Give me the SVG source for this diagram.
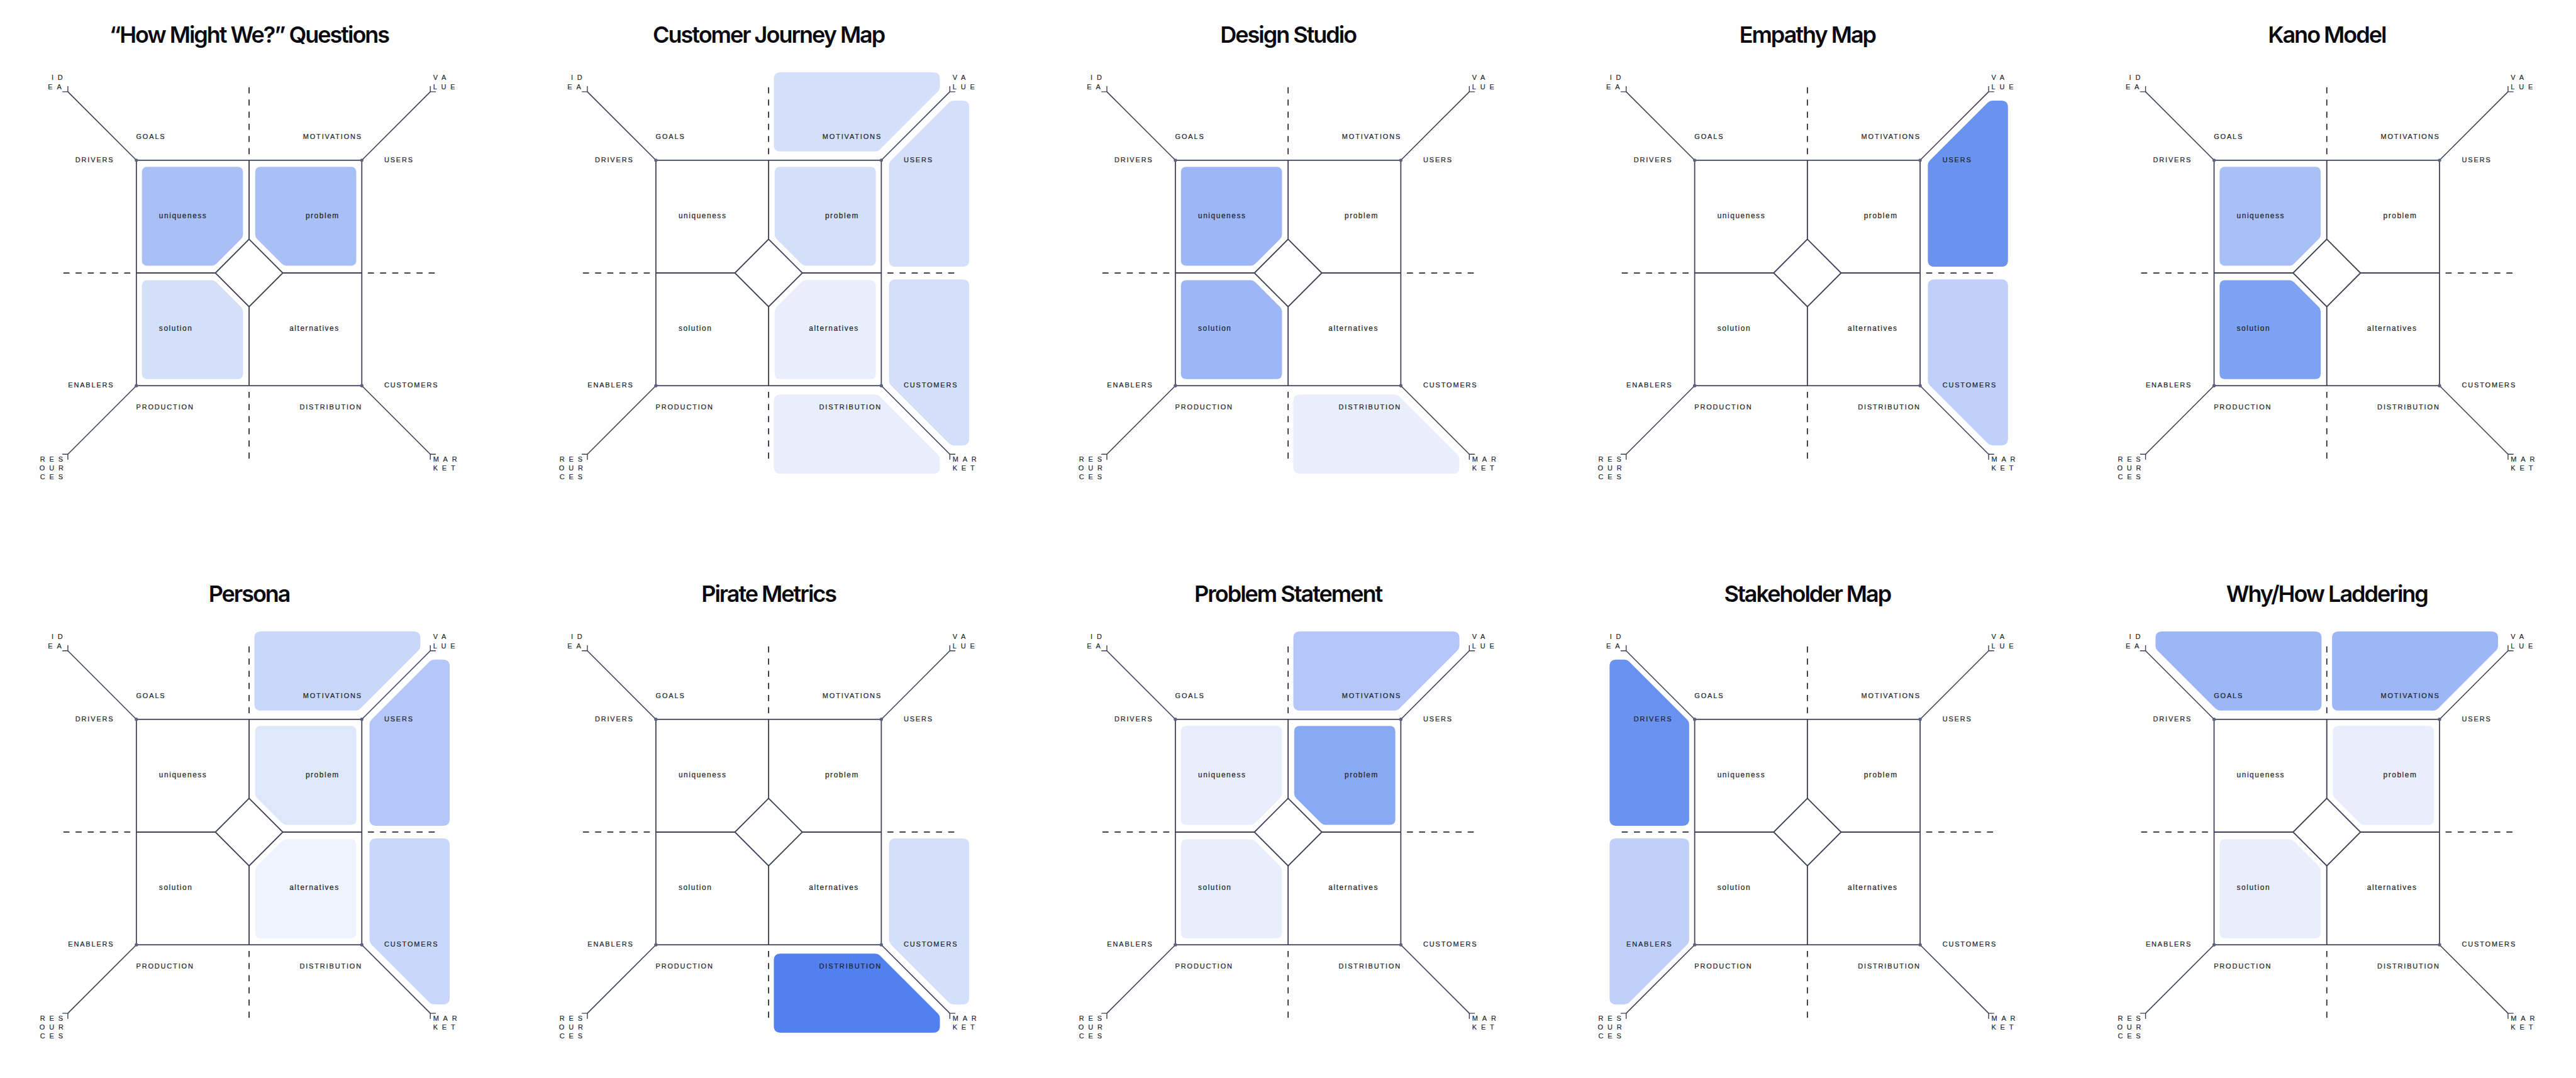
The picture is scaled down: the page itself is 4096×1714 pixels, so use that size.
<svg xmlns="http://www.w3.org/2000/svg" xmlns:xlink="http://www.w3.org/1999/xlink" width="4096" height="1714" viewBox="0 0 4096 1714">
<style>
.box,.inner,.diag,.tick{fill:none;stroke:#3d4054;stroke-linejoin:miter}
.box{stroke-width:2}
.inner{stroke-width:2.1}
.diag{stroke-width:1.8}
.tick{stroke-width:1.6}
.dash{fill:none;stroke:#262834;stroke-width:2;stroke-dasharray:11 11}
.dot{fill:#5c6180}
.title{font-family:Inter,"Liberation Sans",sans-serif;font-weight:600;font-size:41px;letter-spacing:-2.3px;fill:#0b0b0f;text-anchor:middle}
.lb{font-family:"Liberation Sans",Arial,sans-serif;font-size:12.5px;letter-spacing:2.1px;fill:#1c1e2a;stroke:#1c1e2a;stroke-width:0.25px}
.lb.e,.cl.e{text-anchor:end}
.cl{font-family:"Liberation Sans",Arial,sans-serif;font-size:13.5px;letter-spacing:1.8px;fill:#1c1e2a;stroke:#1c1e2a;stroke-width:0.25px}
.cn{font-family:"Liberation Sans",Arial,sans-serif;font-size:12.5px;letter-spacing:7.8px;fill:#1c1e2a;stroke:#1c1e2a;stroke-width:0.2px}
.fA{fill:#5280ee}.fB{fill:#6a92ef}.fC{fill:#7da1f3}.fD{fill:#89a9f5}.fE{fill:#9db7f6}.fF{fill:#a9c0f7}
.fG{fill:#b4c7f8}.fH{fill:#bfd0f9}.fI{fill:#c9d8fa}.fJ{fill:#d4dffa}.fK{fill:#dfe7fb}.fL{fill:#e9eefd}.fM{fill:#eef3fe}
</style>
<defs>
<g id="frame">
<path class="dash" d="M0,-336V-204M0,336V204M-336,0H-204M336,0H204"/>
<rect class="box" x="-204" y="-204" width="408" height="408"/>
<path class="inner" d="M0,-204V-61M0,61V204M-204,0H-61M61,0H204"/>
<path class="inner" d="M0,-61L61,0L0,61L-61,0Z"/>
<path class="diag" d="M-204,-204L-328,-328M204,-204L328,-328M-204,204L-328,328M204,204L328,328"/>
<path class="tick" d="M-338,-328H-328V-338M338,-328H328V-338M-338,328H-328V338M338,328H328V338"/>
<circle class="dot" cx="-204" cy="-204" r="3"/>
<circle class="dot" cx="204" cy="-204" r="3"/>
<circle class="dot" cx="-204" cy="204" r="3"/>
<circle class="dot" cx="204" cy="204" r="3"/>
</g>
<path id="r-uniq" d="M-184,-192L-21,-192Q-11,-192 -11,-182L-11,-70Q-11,-65 -14.5,-61.5L-59.5,-16.5Q-63,-13 -68,-13L-184,-13Q-194,-13 -194,-23L-194,-182Q-194,-192 -184,-192Z"/>
<path id="r-prob" d="M184,-192L21,-192Q11,-192 11,-182L11,-70Q11,-65 14.5,-61.5L59.5,-16.5Q63,-13 68,-13L184,-13Q194,-13 194,-23L194,-182Q194,-192 184,-192Z"/>
<path id="r-sol" d="M-184,192L-21,192Q-11,192 -11,182L-11,70Q-11,65 -14.5,61.5L-59.5,16.5Q-63,13 -68,13L-184,13Q-194,13 -194,23L-194,182Q-194,192 -184,192Z"/>
<path id="r-alt" d="M184,192L21,192Q11,192 11,182L11,70Q11,65 14.5,61.5L59.5,16.5Q63,13 68,13L184,13Q194,13 194,23L194,182Q194,192 184,192Z"/>
<path id="r-motiv" d="M21.5,-363L298,-363Q310,-363 310,-351L310,-337Q310,-332 306.5,-328.5L201.5,-223.5Q198,-220 193,-220L21.5,-220Q9.5,-220 9.5,-232L9.5,-351Q9.5,-363 21.5,-363Z"/>
<path id="r-goals" d="M-21.5,-363L-298,-363Q-310,-363 -310,-351L-310,-337Q-310,-332 -306.5,-328.5L-201.5,-223.5Q-198,-220 -193,-220L-21.5,-220Q-9.5,-220 -9.5,-232L-9.5,-351Q-9.5,-363 -21.5,-363Z"/>
<path id="r-dist" d="M21.5,363L298,363Q310,363 310,351L310,337Q310,332 306.5,328.5L201.5,223.5Q198,220 193,220L21.5,220Q9.5,220 9.5,232L9.5,351Q9.5,363 21.5,363Z"/>
<path id="r-users" d="M218,-23.5L218,-195Q218,-200 221.5,-203.5L326.5,-308.5Q330,-312 335,-312L351,-312Q363,-312 363,-300L363,-23.5Q363,-11.5 351,-11.5L230,-11.5Q218,-11.5 218,-23.5Z"/>
<path id="r-cust" d="M218,23.5L218,195Q218,200 221.5,203.5L326.5,308.5Q330,312 335,312L351,312Q363,312 363,300L363,23.5Q363,11.5 351,11.5L230,11.5Q218,11.5 218,23.5Z"/>
<path id="r-drivers" d="M-214,-23.5L-214,-195Q-214,-200 -217.5,-203.5L-322.5,-308.5Q-326,-312 -331,-312L-346,-312Q-358,-312 -358,-300L-358,-23.5Q-358,-11.5 -346,-11.5L-226,-11.5Q-214,-11.5 -214,-23.5Z"/>
<path id="r-enablers" d="M-214,23.5L-214,195Q-214,200 -217.5,203.5L-322.5,308.5Q-326,312 -331,312L-346,312Q-358,312 -358,300L-358,23.5Q-358,11.5 -346,11.5L-226,11.5Q-214,11.5 -214,23.5Z"/>
</defs>
<rect width="4096" height="1714" fill="#ffffff"/>
<g transform="scale(0.87859)">

<g id="panel-how-might-we" transform="translate(450.8 494)">
<text class="title" x="0" y="-417">“How Might We?” Questions</text>
<g class="regions"><use href="#r-uniq" class="fF"/><use href="#r-prob" class="fF"/><use href="#r-sol" class="fJ"/></g>
<g class="connectors"><use href="#frame"/></g>
<g class="labels">
<text class="lb" x="-204.4" y="-242">GOALS</text><text class="lb e" x="204.8" y="-242">MOTIVATIONS</text>
<text class="lb e" x="-244.2" y="-200.8">DRIVERS</text><text class="lb" x="244.5" y="-200.8">USERS</text>
<text class="lb e" x="-244.2" y="206.7">ENABLERS</text><text class="lb" x="244.5" y="206.7">CUSTOMERS</text>
<text class="lb" x="-204.4" y="247.5">PRODUCTION</text><text class="lb e" x="204.8" y="247.5">DISTRIBUTION</text>
<text class="cl" x="-163" y="-98.7">uniqueness</text><text class="cl e" x="163.6" y="-98.7">problem</text>
<text class="cl" x="-163" y="104.6">solution</text><text class="cl e" x="163.6" y="104.6">alternatives</text>
<text class="cn" x="-357.6" y="-349">ID</text><text class="cn" x="-364" y="-332.8">EA</text>
<text class="cn" x="333" y="-349">VA</text><text class="cn" x="333" y="-332.8">LUE</text>
<text class="cn" x="-378.3" y="341.6">RES</text><text class="cn" x="-379.4" y="357.7">OUR</text><text class="cn" x="-378.3" y="373.8">CES</text>
<text class="cn" x="333" y="341.6">MAR</text><text class="cn" x="333" y="357.7">KET</text>
</g>
</g>

<g id="panel-customer-journey-map" transform="translate(1391 494)">
<text class="title" x="0" y="-417">Customer Journey Map</text>
<g class="regions"><use href="#r-motiv" class="fJ"/><use href="#r-users" class="fJ"/><use href="#r-cust" class="fJ"/><use href="#r-prob" class="fJ"/><use href="#r-alt" class="fL"/><use href="#r-dist" class="fL"/></g>
<g class="connectors"><use href="#frame"/></g>
<g class="labels">
<text class="lb" x="-204.4" y="-242">GOALS</text><text class="lb e" x="204.8" y="-242">MOTIVATIONS</text>
<text class="lb e" x="-244.2" y="-200.8">DRIVERS</text><text class="lb" x="244.5" y="-200.8">USERS</text>
<text class="lb e" x="-244.2" y="206.7">ENABLERS</text><text class="lb" x="244.5" y="206.7">CUSTOMERS</text>
<text class="lb" x="-204.4" y="247.5">PRODUCTION</text><text class="lb e" x="204.8" y="247.5">DISTRIBUTION</text>
<text class="cl" x="-163" y="-98.7">uniqueness</text><text class="cl e" x="163.6" y="-98.7">problem</text>
<text class="cl" x="-163" y="104.6">solution</text><text class="cl e" x="163.6" y="104.6">alternatives</text>
<text class="cn" x="-357.6" y="-349">ID</text><text class="cn" x="-364" y="-332.8">EA</text>
<text class="cn" x="333" y="-349">VA</text><text class="cn" x="333" y="-332.8">LUE</text>
<text class="cn" x="-378.3" y="341.6">RES</text><text class="cn" x="-379.4" y="357.7">OUR</text><text class="cn" x="-378.3" y="373.8">CES</text>
<text class="cn" x="333" y="341.6">MAR</text><text class="cn" x="333" y="357.7">KET</text>
</g>
</g>

<g id="panel-design-studio" transform="translate(2331.2 494)">
<text class="title" x="0" y="-417">Design Studio</text>
<g class="regions"><use href="#r-uniq" class="fE"/><use href="#r-sol" class="fE"/><use href="#r-dist" class="fL"/></g>
<g class="connectors"><use href="#frame"/></g>
<g class="labels">
<text class="lb" x="-204.4" y="-242">GOALS</text><text class="lb e" x="204.8" y="-242">MOTIVATIONS</text>
<text class="lb e" x="-244.2" y="-200.8">DRIVERS</text><text class="lb" x="244.5" y="-200.8">USERS</text>
<text class="lb e" x="-244.2" y="206.7">ENABLERS</text><text class="lb" x="244.5" y="206.7">CUSTOMERS</text>
<text class="lb" x="-204.4" y="247.5">PRODUCTION</text><text class="lb e" x="204.8" y="247.5">DISTRIBUTION</text>
<text class="cl" x="-163" y="-98.7">uniqueness</text><text class="cl e" x="163.6" y="-98.7">problem</text>
<text class="cl" x="-163" y="104.6">solution</text><text class="cl e" x="163.6" y="104.6">alternatives</text>
<text class="cn" x="-357.6" y="-349">ID</text><text class="cn" x="-364" y="-332.8">EA</text>
<text class="cn" x="333" y="-349">VA</text><text class="cn" x="333" y="-332.8">LUE</text>
<text class="cn" x="-378.3" y="341.6">RES</text><text class="cn" x="-379.4" y="357.7">OUR</text><text class="cn" x="-378.3" y="373.8">CES</text>
<text class="cn" x="333" y="341.6">MAR</text><text class="cn" x="333" y="357.7">KET</text>
</g>
</g>

<g id="panel-empathy-map" transform="translate(3271 494)">
<text class="title" x="0" y="-417">Empathy Map</text>
<g class="regions"><use href="#r-users" class="fB"/><use href="#r-cust" class="fH"/></g>
<g class="connectors"><use href="#frame"/></g>
<g class="labels">
<text class="lb" x="-204.4" y="-242">GOALS</text><text class="lb e" x="204.8" y="-242">MOTIVATIONS</text>
<text class="lb e" x="-244.2" y="-200.8">DRIVERS</text><text class="lb" x="244.5" y="-200.8">USERS</text>
<text class="lb e" x="-244.2" y="206.7">ENABLERS</text><text class="lb" x="244.5" y="206.7">CUSTOMERS</text>
<text class="lb" x="-204.4" y="247.5">PRODUCTION</text><text class="lb e" x="204.8" y="247.5">DISTRIBUTION</text>
<text class="cl" x="-163" y="-98.7">uniqueness</text><text class="cl e" x="163.6" y="-98.7">problem</text>
<text class="cl" x="-163" y="104.6">solution</text><text class="cl e" x="163.6" y="104.6">alternatives</text>
<text class="cn" x="-357.6" y="-349">ID</text><text class="cn" x="-364" y="-332.8">EA</text>
<text class="cn" x="333" y="-349">VA</text><text class="cn" x="333" y="-332.8">LUE</text>
<text class="cn" x="-378.3" y="341.6">RES</text><text class="cn" x="-379.4" y="357.7">OUR</text><text class="cn" x="-378.3" y="373.8">CES</text>
<text class="cn" x="333" y="341.6">MAR</text><text class="cn" x="333" y="357.7">KET</text>
</g>
</g>

<g id="panel-kano-model" transform="translate(4211 494)">
<text class="title" x="0" y="-417">Kano Model</text>
<g class="regions"><use href="#r-uniq" class="fF"/><use href="#r-sol" class="fC"/></g>
<g class="connectors"><use href="#frame"/></g>
<g class="labels">
<text class="lb" x="-204.4" y="-242">GOALS</text><text class="lb e" x="204.8" y="-242">MOTIVATIONS</text>
<text class="lb e" x="-244.2" y="-200.8">DRIVERS</text><text class="lb" x="244.5" y="-200.8">USERS</text>
<text class="lb e" x="-244.2" y="206.7">ENABLERS</text><text class="lb" x="244.5" y="206.7">CUSTOMERS</text>
<text class="lb" x="-204.4" y="247.5">PRODUCTION</text><text class="lb e" x="204.8" y="247.5">DISTRIBUTION</text>
<text class="cl" x="-163" y="-98.7">uniqueness</text><text class="cl e" x="163.6" y="-98.7">problem</text>
<text class="cl" x="-163" y="104.6">solution</text><text class="cl e" x="163.6" y="104.6">alternatives</text>
<text class="cn" x="-357.6" y="-349">ID</text><text class="cn" x="-364" y="-332.8">EA</text>
<text class="cn" x="333" y="-349">VA</text><text class="cn" x="333" y="-332.8">LUE</text>
<text class="cn" x="-378.3" y="341.6">RES</text><text class="cn" x="-379.4" y="357.7">OUR</text><text class="cn" x="-378.3" y="373.8">CES</text>
<text class="cn" x="333" y="341.6">MAR</text><text class="cn" x="333" y="357.7">KET</text>
</g>
</g>

<g id="panel-persona" transform="translate(450.8 1505.8)">
<text class="title" x="0" y="-417">Persona</text>
<g class="regions"><use href="#r-motiv" class="fI"/><use href="#r-users" class="fG"/><use href="#r-cust" class="fI"/><use href="#r-prob" class="fK"/><use href="#r-alt" class="fM"/></g>
<g class="connectors"><use href="#frame"/></g>
<g class="labels">
<text class="lb" x="-204.4" y="-242">GOALS</text><text class="lb e" x="204.8" y="-242">MOTIVATIONS</text>
<text class="lb e" x="-244.2" y="-200.8">DRIVERS</text><text class="lb" x="244.5" y="-200.8">USERS</text>
<text class="lb e" x="-244.2" y="206.7">ENABLERS</text><text class="lb" x="244.5" y="206.7">CUSTOMERS</text>
<text class="lb" x="-204.4" y="247.5">PRODUCTION</text><text class="lb e" x="204.8" y="247.5">DISTRIBUTION</text>
<text class="cl" x="-163" y="-98.7">uniqueness</text><text class="cl e" x="163.6" y="-98.7">problem</text>
<text class="cl" x="-163" y="104.6">solution</text><text class="cl e" x="163.6" y="104.6">alternatives</text>
<text class="cn" x="-357.6" y="-349">ID</text><text class="cn" x="-364" y="-332.8">EA</text>
<text class="cn" x="333" y="-349">VA</text><text class="cn" x="333" y="-332.8">LUE</text>
<text class="cn" x="-378.3" y="341.6">RES</text><text class="cn" x="-379.4" y="357.7">OUR</text><text class="cn" x="-378.3" y="373.8">CES</text>
<text class="cn" x="333" y="341.6">MAR</text><text class="cn" x="333" y="357.7">KET</text>
</g>
</g>

<g id="panel-pirate-metrics" transform="translate(1391 1505.8)">
<text class="title" x="0" y="-417">Pirate Metrics</text>
<g class="regions"><use href="#r-dist" class="fA"/><use href="#r-cust" class="fJ"/></g>
<g class="connectors"><use href="#frame"/></g>
<g class="labels">
<text class="lb" x="-204.4" y="-242">GOALS</text><text class="lb e" x="204.8" y="-242">MOTIVATIONS</text>
<text class="lb e" x="-244.2" y="-200.8">DRIVERS</text><text class="lb" x="244.5" y="-200.8">USERS</text>
<text class="lb e" x="-244.2" y="206.7">ENABLERS</text><text class="lb" x="244.5" y="206.7">CUSTOMERS</text>
<text class="lb" x="-204.4" y="247.5">PRODUCTION</text><text class="lb e" x="204.8" y="247.5">DISTRIBUTION</text>
<text class="cl" x="-163" y="-98.7">uniqueness</text><text class="cl e" x="163.6" y="-98.7">problem</text>
<text class="cl" x="-163" y="104.6">solution</text><text class="cl e" x="163.6" y="104.6">alternatives</text>
<text class="cn" x="-357.6" y="-349">ID</text><text class="cn" x="-364" y="-332.8">EA</text>
<text class="cn" x="333" y="-349">VA</text><text class="cn" x="333" y="-332.8">LUE</text>
<text class="cn" x="-378.3" y="341.6">RES</text><text class="cn" x="-379.4" y="357.7">OUR</text><text class="cn" x="-378.3" y="373.8">CES</text>
<text class="cn" x="333" y="341.6">MAR</text><text class="cn" x="333" y="357.7">KET</text>
</g>
</g>

<g id="panel-problem-statement" transform="translate(2331.2 1505.8)">
<text class="title" x="0" y="-417">Problem Statement</text>
<g class="regions"><use href="#r-motiv" class="fG"/><use href="#r-prob" class="fD"/><use href="#r-uniq" class="fL"/><use href="#r-sol" class="fL"/></g>
<g class="connectors"><use href="#frame"/></g>
<g class="labels">
<text class="lb" x="-204.4" y="-242">GOALS</text><text class="lb e" x="204.8" y="-242">MOTIVATIONS</text>
<text class="lb e" x="-244.2" y="-200.8">DRIVERS</text><text class="lb" x="244.5" y="-200.8">USERS</text>
<text class="lb e" x="-244.2" y="206.7">ENABLERS</text><text class="lb" x="244.5" y="206.7">CUSTOMERS</text>
<text class="lb" x="-204.4" y="247.5">PRODUCTION</text><text class="lb e" x="204.8" y="247.5">DISTRIBUTION</text>
<text class="cl" x="-163" y="-98.7">uniqueness</text><text class="cl e" x="163.6" y="-98.7">problem</text>
<text class="cl" x="-163" y="104.6">solution</text><text class="cl e" x="163.6" y="104.6">alternatives</text>
<text class="cn" x="-357.6" y="-349">ID</text><text class="cn" x="-364" y="-332.8">EA</text>
<text class="cn" x="333" y="-349">VA</text><text class="cn" x="333" y="-332.8">LUE</text>
<text class="cn" x="-378.3" y="341.6">RES</text><text class="cn" x="-379.4" y="357.7">OUR</text><text class="cn" x="-378.3" y="373.8">CES</text>
<text class="cn" x="333" y="341.6">MAR</text><text class="cn" x="333" y="357.7">KET</text>
</g>
</g>

<g id="panel-stakeholder-map" transform="translate(3271 1505.8)">
<text class="title" x="0" y="-417">Stakeholder Map</text>
<g class="regions"><use href="#r-drivers" class="fB"/><use href="#r-enablers" class="fH"/></g>
<g class="connectors"><use href="#frame"/></g>
<g class="labels">
<text class="lb" x="-204.4" y="-242">GOALS</text><text class="lb e" x="204.8" y="-242">MOTIVATIONS</text>
<text class="lb e" x="-244.2" y="-200.8">DRIVERS</text><text class="lb" x="244.5" y="-200.8">USERS</text>
<text class="lb e" x="-244.2" y="206.7">ENABLERS</text><text class="lb" x="244.5" y="206.7">CUSTOMERS</text>
<text class="lb" x="-204.4" y="247.5">PRODUCTION</text><text class="lb e" x="204.8" y="247.5">DISTRIBUTION</text>
<text class="cl" x="-163" y="-98.7">uniqueness</text><text class="cl e" x="163.6" y="-98.7">problem</text>
<text class="cl" x="-163" y="104.6">solution</text><text class="cl e" x="163.6" y="104.6">alternatives</text>
<text class="cn" x="-357.6" y="-349">ID</text><text class="cn" x="-364" y="-332.8">EA</text>
<text class="cn" x="333" y="-349">VA</text><text class="cn" x="333" y="-332.8">LUE</text>
<text class="cn" x="-378.3" y="341.6">RES</text><text class="cn" x="-379.4" y="357.7">OUR</text><text class="cn" x="-378.3" y="373.8">CES</text>
<text class="cn" x="333" y="341.6">MAR</text><text class="cn" x="333" y="357.7">KET</text>
</g>
</g>

<g id="panel-why-how-laddering" transform="translate(4211 1505.8)">
<text class="title" x="0" y="-417">Why/How Laddering</text>
<g class="regions"><use href="#r-goals" class="fE"/><use href="#r-motiv" class="fE"/><use href="#r-prob" class="fL"/><use href="#r-sol" class="fL"/></g>
<g class="connectors"><use href="#frame"/></g>
<g class="labels">
<text class="lb" x="-204.4" y="-242">GOALS</text><text class="lb e" x="204.8" y="-242">MOTIVATIONS</text>
<text class="lb e" x="-244.2" y="-200.8">DRIVERS</text><text class="lb" x="244.5" y="-200.8">USERS</text>
<text class="lb e" x="-244.2" y="206.7">ENABLERS</text><text class="lb" x="244.5" y="206.7">CUSTOMERS</text>
<text class="lb" x="-204.4" y="247.5">PRODUCTION</text><text class="lb e" x="204.8" y="247.5">DISTRIBUTION</text>
<text class="cl" x="-163" y="-98.7">uniqueness</text><text class="cl e" x="163.6" y="-98.7">problem</text>
<text class="cl" x="-163" y="104.6">solution</text><text class="cl e" x="163.6" y="104.6">alternatives</text>
<text class="cn" x="-357.6" y="-349">ID</text><text class="cn" x="-364" y="-332.8">EA</text>
<text class="cn" x="333" y="-349">VA</text><text class="cn" x="333" y="-332.8">LUE</text>
<text class="cn" x="-378.3" y="341.6">RES</text><text class="cn" x="-379.4" y="357.7">OUR</text><text class="cn" x="-378.3" y="373.8">CES</text>
<text class="cn" x="333" y="341.6">MAR</text><text class="cn" x="333" y="357.7">KET</text>
</g>
</g>

</g>
</svg>
